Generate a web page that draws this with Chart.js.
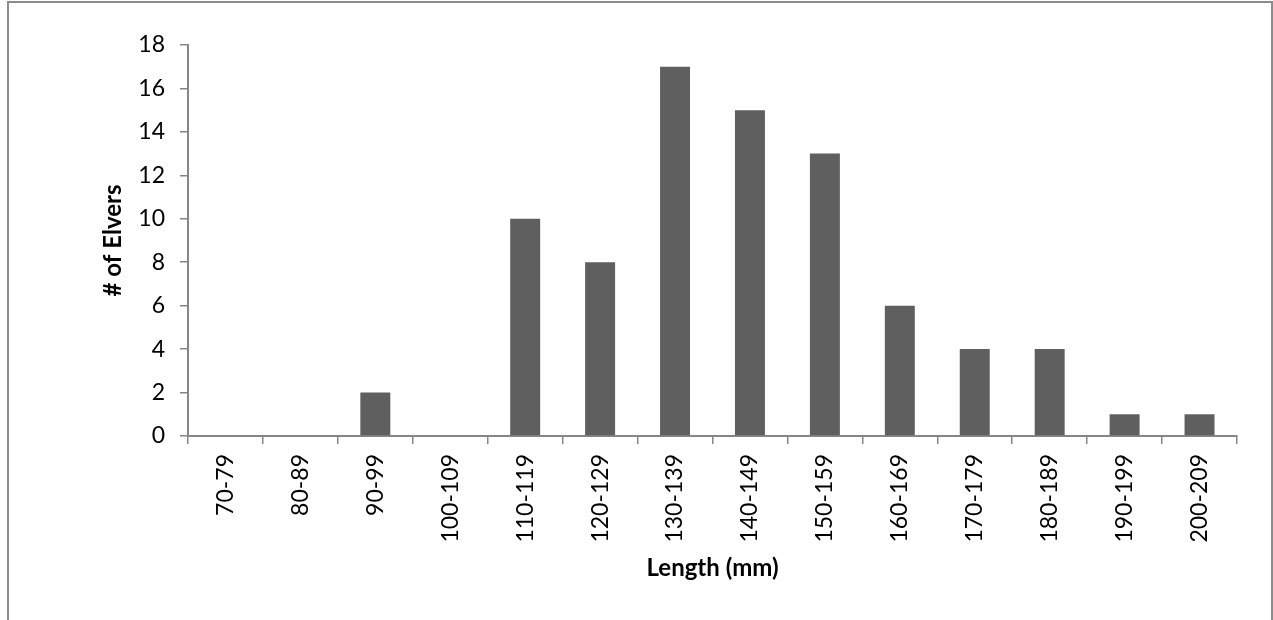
<!DOCTYPE html>
<html>
<head>
<meta charset="utf-8">
<script src="https://cdn.jsdelivr.net/npm/chart.js@4/dist/chart.umd.min.js"></script>
<style>
    html, body { margin: 0; padding: 0; background: #fff; overflow: hidden; }
    #frame {
        position: absolute; left: 7px; top: 1px;
        width: 1262px; height: 700px;
        border: 2px solid #8c8c8c;
    }
    #wrap { position: absolute; left: 0; top: 0; width: 1273px; height: 620px; }
</style>
</head>
<body>
<div id="frame"></div>
<div id="wrap"><canvas id="barChart" width="1273" height="620"></canvas></div>
<script>
const categories = ["70-79", "80-89", "90-99", "100-109", "110-119", "120-129", "130-139",
    "140-149", "150-159", "160-169", "170-179", "180-189", "190-199", "200-209"];
const elvers = [0, 0, 2, 0, 10, 8, 17, 15, 13, 6, 4, 4, 1, 1];
const yTicks = [0, 2, 4, 6, 8, 10, 12, 14, 16, 18];

const axisColor = "#868686";
const fontFamily = "Lato, 'Open Sans', sans-serif";

document.addEventListener("DOMContentLoaded", () => {
    const ctx = document.getElementById("barChart").getContext("2d");

    new Chart(ctx, {
        type: "bar",
        data: {
            labels: categories,
            datasets: [{
                label: "# of Elvers",
                data: elvers,
                backgroundColor: "#5f5f5f",
                borderWidth: 0,
                categoryPercentage: 1.0,
                barPercentage: 0.4
            }]
        },
        options: {
            responsive: false,
            animation: false,
            layout: { padding: { left: 0, top: 45, right: 36, bottom: 0 } },
            plugins: {
                legend: { display: false },
                tooltip: { enabled: false }
            },
            scales: {
                x: {
                    afterFit: scale => { scale.height = 184; },
                    grid: {
                        display: true,
                        drawOnChartArea: false,
                        drawTicks: true,
                        tickLength: 8,
                        color: axisColor,
                        lineWidth: 1.5
                    },
                    border: { display: true, color: axisColor, width: 2 },
                    ticks: {
                        autoSkip: false,
                        minRotation: 90,
                        maxRotation: 90,
                        padding: 10,
                        color: "#000",
                        font: { family: fontFamily, size: 23 }
                    },
                    title: {
                        display: true,
                        text: "Length (mm)",
                        color: "#000",
                        font: { family: fontFamily, size: 24, weight: "bold" },
                        padding: { top: 0, bottom: 37 }
                    }
                },
                y: {
                    min: 0,
                    max: 18,
                    afterFit: scale => { scale.width = 188; },
                    afterBuildTicks: scale => { scale.ticks = yTicks.map(v => ({ value: v })); },
                    grid: {
                        display: true,
                        drawOnChartArea: false,
                        drawTicks: true,
                        tickLength: 8,
                        color: axisColor,
                        lineWidth: 1.5
                    },
                    border: { display: true, color: axisColor, width: 2 },
                    ticks: {
                        padding: 15,
                        color: "#000",
                        font: { family: fontFamily, size: 23 }
                    },
                    title: {
                        display: true,
                        text: "# of Elvers",
                        color: "#000",
                        font: { family: fontFamily, size: 24, weight: "bold" },
                        padding: { top: 99, bottom: 0 }
                    }
                }
            }
        }
    });
});
</script>
</body>
</html>
